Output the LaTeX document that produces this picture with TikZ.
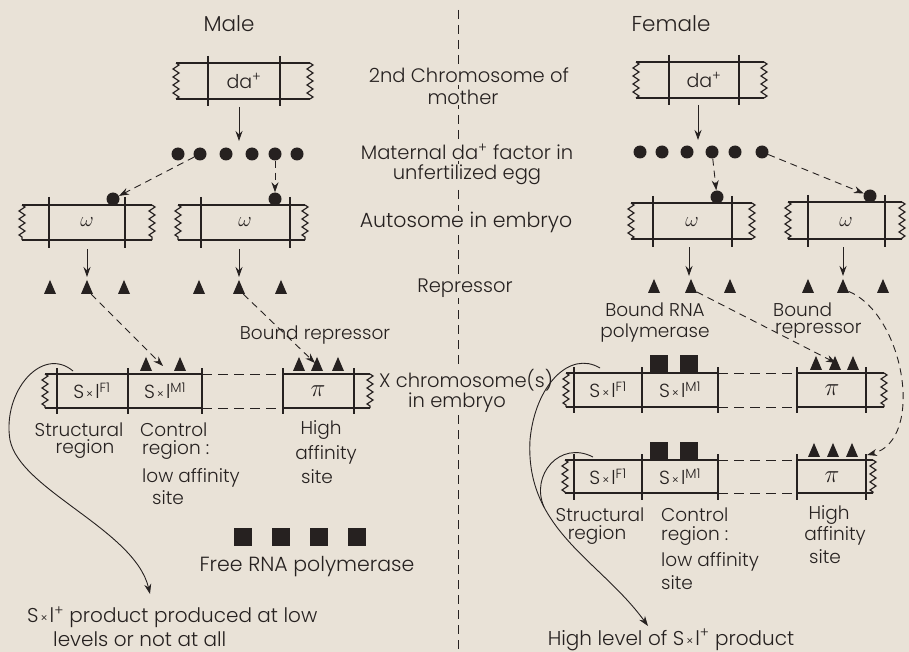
\documentclass[tikz,border=0pt]{standalone}
\usepackage{fontspec}
\usepackage{graphicx}
\setmainfont{Poppins}[UprightFont={* Light}]
\usetikzlibrary{arrows.meta,decorations.pathmorphing,shapes.geometric}
\definecolor{bg}{RGB}{233,226,215}
\definecolor{ink}{RGB}{38,33,32}
\newcommand\lbfont{\fontsize{18.5}{21}\selectfont}
\newcommand\sxl{S\kern2pt{\fontsize{12}{12}\selectfont ×}\kern2pt l}
\newcommand\bigpi{\scalebox{1.45}{$\pi$}}
\newcommand\bigom{\scalebox{1.2}{$\omega$}}
\tikzset{
  ln/.style={draw=ink, line width=1.3pt},
  thin/.style={draw=ink, line width=0.9pt},
  jag/.style={draw=ink, line width=1.2pt, decorate, decoration={zigzag, segment length=8pt, amplitude=3pt}},
  dotn/.style={circle, fill=ink, inner sep=0pt, minimum size=13pt},
  tri/.style={isosceles triangle, isosceles triangle stretches, shape border rotate=90, fill=ink, inner sep=0pt, minimum width=12pt, minimum height=14pt},
  sq/.style={rectangle, fill=ink, inner sep=0pt, minimum size=18pt},
  lbl/.style={font=\lbfont, text=ink, inner sep=1pt},
  clbl/.style={font=\fontsize{19.5}{21}\selectfont, text=ink, inner sep=1pt, fill=bg},
  ttl/.style={font=\fontsize{21.5}{24}\selectfont, text=ink, inner sep=1pt},
  inlbl/.style={font=\fontsize{19}{20}\selectfont, text=ink, inner sep=1pt},
  pil/.style={font=\fontsize{17}{18}\selectfont, text=ink, inner sep=1pt},
  om/.style={font=\fontsize{17}{18}\selectfont, text=ink, inner sep=1pt},
  arr/.style={thin, -{Stealth[length=10pt,width=7pt]}},
  darr/.style={thin, dash pattern=on 7pt off 5pt, -{Stealth[length=10pt,width=7pt]}},
  divl/.style={draw=ink, line width=0.8pt, dash pattern=on 9pt off 6pt}
}
\begin{document}
\begin{tikzpicture}[x=1pt,y=-1pt]
\fill[bg] (0,0) rectangle (909,652);
\useasboundingbox (0,0) rectangle (909,652);

% divider
\coordinate (divtop) at (458,10);
\coordinate (divbot) at (458,652);
\draw[divl] (divtop) -- (divbot);

% titles
\node[ttl] (male) at (229,24) {Male};
\node[ttl] (female) at (671,24) {Female};

% centre labels
\node[clbl] (c1a) at (469,75) {2nd Chromosome of};
\node[clbl] (c1b) at (463,97) {mother};
\node[clbl] (c2a) at (467,152) {Maternal da\textsuperscript{+} factor in};
\node[clbl] (c2b) at (467,175) {unfertilized egg};
\node[clbl, font=\fontsize{20.5}{21}\selectfont] (c3) at (466,222) {Autosome in embryo};
\node[clbl] (c4) at (465,288) {Repressor};
\node[clbl, align=center, font=\fontsize{19.5}{17.5}\selectfont] (c5) at (466,391) {X chromosome(s)\\\hspace*{-18pt}in embryo};

% ================= MALE =================
% da+ chromosome
\draw[ln] (176,63) -- (310,63) (176,99) -- (310,99);
\draw[jag] (176,63) -- (176,99);
\draw[jag] (310,63) -- (310,99);
\draw[ln] (208,56) -- (208,106) (280,56) -- (280,106);
\node[inlbl] (mda) at (244,81) {da\textsuperscript{+}};
\coordinate (ma0) at (239,107);
\coordinate (ma1) at (239,141);
\draw[arr] (ma0) -- (ma1);

% maternal factor dots
\foreach \i/\x in {1/178,2/200,3/226,4/252,5/275,6/297}
  \node[dotn] (md\i) at (\x,154) {};

% autosomes
\draw[ln] (22,205) -- (152,205) (22,240) -- (152,240);
\draw[jag] (22,205) -- (22,240);
\draw[jag] (152,205) -- (152,240);
\draw[ln] (49,197) -- (49,248) (125,197) -- (125,248);
\node[om] (mom1) at (87,222) {\bigom};
\draw[ln] (178,205) -- (305,205) (178,240) -- (305,240);
\draw[jag] (178,205) -- (178,240);
\draw[jag] (305,205) -- (305,240);
\draw[ln] (201,197) -- (201,248) (290,197) -- (290,248);
\node[om] (mom2) at (245,222) {\bigom};

\node[dotn] (mb1) at (113,199) {};
\node[dotn] (mb2) at (275,199) {};
\draw[darr] (md2) -- (mb1);
\draw[darr] (md5) -- (mb2);

% arrows to repressor
\coordinate (ms1) at (87,249);
\coordinate (me1) at (87,277);
\coordinate (ms2) at (239,249);
\coordinate (me2) at (239,277);
\draw[arr] (ms1) -- (me1);
\draw[arr] (ms2) -- (me2);

\foreach \i/\x in {1/50,2/87,3/124,4/199,5/239,6/281}
  \node[tri] (mr\i) at (\x,290) {};

% X chromosome male
\draw[ln] (45,374) -- (202,374) (283,374) -- (370,374);
\draw[ln] (45,408) -- (202,408) (283,408) -- (370,408);
\draw[thin, dash pattern=on 10pt off 6pt] (202,374) -- (283,374) (202,408) -- (283,408);
\draw[jag] (45,374) -- (45,408);
\draw[jag] (370,374) -- (370,408);
\foreach \x in {57,128,202,283,354} \draw[ln] (\x,368) -- (\x,414);
\node[inlbl] (mf1) at (92,391) {\sxl\textsuperscript{F1}};
\node[inlbl] (mm1) at (165,391) {\sxl\textsuperscript{M1}};
\node[pil] (mpi) at (318,391) {\bigpi};
\foreach \i/\x in {1/146,2/180,3/299,4/317,5/338}
  \node[tri] (mx\i) at (\x,367) {};

\coordinate (mt1) at (163,366);
\coordinate (mt2) at (315,363);
\draw[darr] (mr2) -- (mt1);
\draw[darr] (mr5) -- (mt2);
\node[lbl] (mbr) at (315,335) {Bound repressor};

% labels under male X
\node[lbl] (ms1l) at (79,430) {Structural};
\node[lbl] (ms2l) at (85,449) {region};
\node[lbl, anchor=west] (mc1) at (139,430) {Control};
\node[lbl, anchor=west] (mc2) at (141,450) {region :};
\node[lbl, anchor=west] (mc3) at (141,478) {low affinity};
\node[lbl, anchor=west] (mc4) at (151,498) {site};
\node[lbl] (mh1) at (321,430) {High};
\node[lbl] (mh2) at (326,455) {affinity};
\node[lbl] (mh3) at (317,477) {site};

% free RNA polymerase
\foreach \i/\x in {1/243,2/281,3/319,4/357}
  \node[sq] (fp\i) at (\x,537) {};
\node[lbl, font=\fontsize{20.5}{22}\selectfont] (frp) at (307,567) {Free RNA polymerase};

% curve male
\coordinate (mcs) at (73,371);
\coordinate (mce) at (150,594);
\draw[arr] (mcs) .. controls (42,345) and (2,392) .. (10,440) .. controls (20,490) and (135,530) .. (mce);

\node[lbl, anchor=west, font=\fontsize{20}{22}\selectfont] (mp1) at (26,617) {\sxl\textsuperscript{+} product produced at low};
\node[lbl, anchor=west, font=\fontsize{20}{22}\selectfont] (mp2) at (52,639) {levels or not at all};

% ================= FEMALE =================
\draw[ln] (636,62) -- (764,62) (636,98) -- (764,98);
\draw[jag] (636,62) -- (636,98);
\draw[jag] (764,62) -- (764,98);
\draw[ln] (669,55) -- (669,105) (739,55) -- (739,105);
\node[inlbl] (fda) at (704,80) {da\textsuperscript{+}};
\coordinate (fa0) at (698,105);
\coordinate (fa1) at (698,140);
\draw[arr] (fa0) -- (fa1);

\foreach \i/\x in {1/640,2/662,3/687,4/712,5/735,6/762}
  \node[dotn] (fd\i) at (\x,152) {};

% autosomes female
\draw[ln] (631,203) -- (752,203) (631,239) -- (752,239);
\draw[jag] (631,203) -- (631,239);
\draw[jag] (752,203) -- (752,239);
\draw[ln] (653,196) -- (653,247) (732,196) -- (732,247);
\node[om] (fom1) at (692,222) {\bigom};
\draw[ln] (788,202) -- (902,202) (788,239) -- (902,239);
\draw[jag] (788,202) -- (788,239);
\draw[jag] (902,202) -- (902,239);
\draw[ln] (808,195) -- (808,247) (885,195) -- (885,247);
\node[om] (fom2) at (846,222) {\bigom};

\node[dotn] (fb1) at (717,197) {};
\node[dotn] (fb2) at (870,196) {};
\draw[darr] (fd4) -- (fb1);
\draw[darr] (fd6) -- (fb2);

\coordinate (fs1) at (689,247);
\coordinate (fe1) at (689,276);
\coordinate (fs2) at (843,247);
\coordinate (fe2) at (843,276);
\draw[arr] (fs1) -- (fe1);
\draw[arr] (fs2) -- (fe2);

\foreach \i/\x in {1/654,2/691,3/730,4/808,5/843,6/883}
  \node[tri] (fr\i) at (\x,289) {};

\node[lbl] (fbr1) at (655,310) {Bound RNA};
\node[lbl] (fbr2) at (655,333) {polymerase};
\node[lbl, anchor=west] (fbq1) at (772,310) {Bound};
\node[lbl, anchor=west] (fbq2) at (774,331) {repressor};

% X chromosome female 1
\draw[ln] (566,373) -- (718,373) (797,373) -- (884,373);
\draw[ln] (566,407) -- (718,407) (797,407) -- (884,407);
\draw[thin, dash pattern=on 10pt off 6pt] (718,373) -- (797,373) (718,407) -- (797,407);
\draw[jag] (566,373) -- (566,407);
\draw[jag] (884,373) -- (884,407);
\foreach \x in {574,642,718,797,866} \draw[ln] (\x,367) -- (\x,413);
\node[inlbl] (ff1) at (608,390) {\sxl\textsuperscript{F1}};
\node[inlbl] (fm1) at (680,390) {\sxl\textsuperscript{M1}};
\node[pil] (fpi1) at (832,390) {\bigpi};
\node[sq] (fq1) at (659,364) {};
\node[sq] (fq2) at (689,364) {};
\foreach \i/\x in {1/816,2/835,3/853}
  \node[tri] (fx\i) at (\x,366) {};

% X chromosome female 2
\draw[ln] (565,460) -- (718,460) (797,460) -- (873,460);
\draw[ln] (565,493) -- (718,493) (797,493) -- (873,493);
\draw[thin, dash pattern=on 10pt off 6pt] (718,460) -- (797,460) (718,493) -- (797,493);
\draw[jag] (565,460) -- (565,493);
\draw[jag] (873,460) -- (873,493);
\foreach \x in {574,642,718,797,866} \draw[ln] (\x,454) -- (\x,500);
\node[inlbl] (ff2) at (608,477) {\sxl\textsuperscript{F1}};
\node[inlbl] (fm2) at (680,477) {\sxl\textsuperscript{M1}};
\node[pil] (fpi2) at (832,477) {\bigpi};
\node[sq] (fq3) at (659,451) {};
\node[sq] (fq4) at (689,451) {};
\foreach \i/\x in {1/814,2/833,3/852}
  \node[tri] (fy\i) at (\x,453) {};

% repressor arrows female
\coordinate (ft1) at (836,363);
\coordinate (ft2) at (867,455);
\draw[darr] (fr2) -- (ft1);
\draw[darr] (fr5) .. controls (905,315) and (925,440) .. (ft2);

% labels under female X2
\node[lbl] (fs1l) at (600,515) {Structural};
\node[lbl] (fs2l) at (597,535) {region};
\node[lbl, anchor=west] (fc1) at (660,515) {Control};
\node[lbl, anchor=west] (fc2) at (660,536) {region :};
\node[lbl, anchor=west] (fc3) at (660,562) {low affinity};
\node[lbl, anchor=west] (fc4) at (660,583) {site};
\node[lbl] (fh1) at (829,515) {High};
\node[lbl] (fh2) at (835,536) {affinity};
\node[lbl] (fh3) at (825,557) {site};

% female curves
\coordinate (fcs1) at (600,368);
\coordinate (fcs2) at (593,457);
\coordinate (fcm) at (544,507);
\coordinate (fce) at (648,626);
\draw[arr] (fcs1) .. controls (570,350) and (535,385) .. (530,440) .. controls (525,530) and (600,560) .. (fce);
\draw[thin] (fcs2) .. controls (560,440) and (530,475) .. (fcm);

\node[lbl, font=\fontsize{20}{22}\selectfont] (fhl) at (671,640) {High level of \sxl\textsuperscript{+} product};
\end{tikzpicture}
\end{document}
